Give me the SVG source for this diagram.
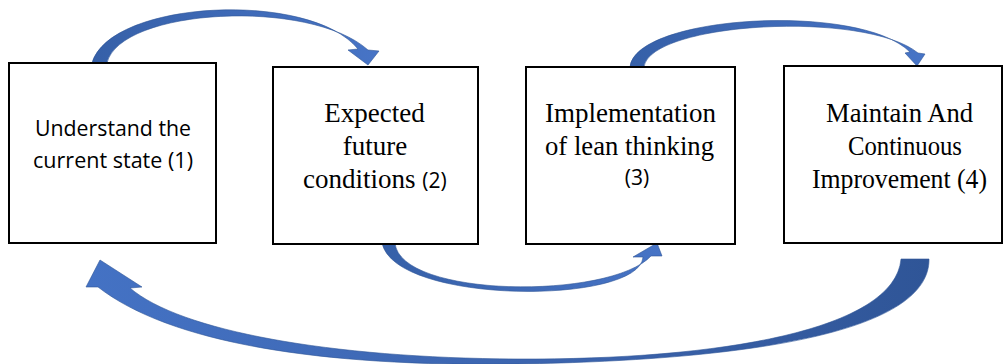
<svg xmlns="http://www.w3.org/2000/svg" width="1005" height="364" viewBox="0 0 1005 364">
  <defs>
    <linearGradient id="gR" x1="0" y1="0" x2="1" y2="0">
      <stop offset="0" stop-color="#3660A8"/>
      <stop offset="1" stop-color="#4774C6"/>
    </linearGradient>
    <linearGradient id="gL" x1="0" y1="0" x2="1" y2="0">
      <stop offset="0" stop-color="#4472C4"/>
      <stop offset="0.6" stop-color="#3B63AC"/>
      <stop offset="1" stop-color="#2F5597"/>
    </linearGradient>
  </defs>
  <style>
    .box { fill: #ffffff; stroke: #000000; stroke-width: 2; }
    .arr { stroke: #2F5597; stroke-width: 0.6; stroke-linejoin: round; }
    .sans { font-family: "Open Sans", "Lato", "Liberation Sans", sans-serif; font-size: 21px; fill: #000; }
    .serif { font-family: "Liberation Serif", "Times New Roman", serif; font-size: 27px; fill: #000; }
  </style>

  <g id="connectors">
    <path id="c1" class="arr" fill="url(#gR)" d="M 92 63 C 110 0, 310 -10, 358 49 L 348 50 L 368 65 L 379 51 L 368 50 C 310 -2, 120 8, 107 63 Z"/>
    <path id="c2" class="arr" fill="url(#gR)" d="M 630 67 C 635 15, 860 2, 910 52 L 905 53 L 917 66 L 925 54 L 918 53 C 865 10, 650 22, 644 67 Z"/>
    <path id="c3" class="arr" fill="url(#gR)" d="M 382 243 C 395 305, 640 305, 643 257 L 633 257 L 657 243 L 662 256 L 651 256 C 610 300, 400 298, 395 243 Z"/>
    <path id="c4" class="arr" fill="url(#gL)" d="M 929 259 C 930 330, 760 360, 517 364 C 320 367, 170 343, 98 287 L 86 287 L 100 260 L 142 287 L 130 288 C 180 331, 330 358, 517 359 C 720 360, 895 330, 901 259 Z"/>
  </g>

  <g id="node1">
    <rect class="box" x="9" y="63" width="207" height="180"/>
    <text class="sans" x="113" y="136" text-anchor="middle" textLength="156" lengthAdjust="spacingAndGlyphs">Understand the</text>
    <text class="sans" x="113" y="168" text-anchor="middle" textLength="160" lengthAdjust="spacingAndGlyphs">current state (1)</text>
  </g>

  <g id="node2">
    <rect class="box" x="273" y="67" width="205" height="177"/>
    <text class="serif" x="374.5" y="122" text-anchor="middle">Expected</text>
    <text class="serif" x="375" y="155" text-anchor="middle">future</text>
    <text class="serif" x="303" y="188">conditions <tspan class="sans">(2)</tspan></text>
  </g>

  <g id="node3">
    <rect class="box" x="526" y="67" width="209" height="177"/>
    <text class="serif" x="630.5" y="122" text-anchor="middle">Implementation</text>
    <text class="serif" x="629.5" y="155" text-anchor="middle" textLength="169" lengthAdjust="spacingAndGlyphs">of lean thinking</text>
    <text class="sans" x="637" y="185" text-anchor="middle">(3)</text>
  </g>

  <g id="node4">
    <rect class="box" x="784" y="66" width="218" height="177"/>
    <text class="serif" x="899.5" y="122" text-anchor="middle" textLength="147" lengthAdjust="spacingAndGlyphs">Maintain And</text>
    <text class="serif" x="905" y="155" text-anchor="middle" textLength="114" lengthAdjust="spacingAndGlyphs">Continuous</text>
    <text class="serif" x="899.5" y="188" text-anchor="middle" textLength="175" lengthAdjust="spacingAndGlyphs">Improvement (4)</text>
  </g>
</svg>
